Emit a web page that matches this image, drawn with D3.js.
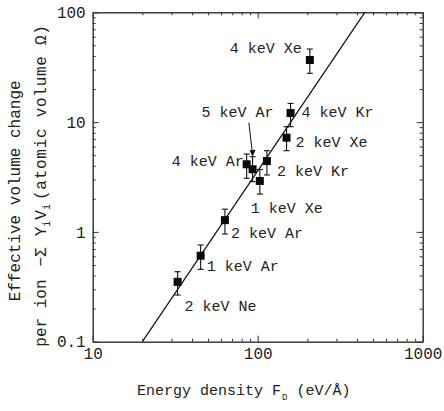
<!DOCTYPE html>
<html>
<head>
<meta charset="utf-8">
<script src="https://cdn.jsdelivr.net/npm/d3@7/dist/d3.min.js"></script>
<style>
  html, body { margin: 0; padding: 0; background: #fff; }
  svg { display: block; }
  .mono { font-family: "Liberation Mono", "Courier New", monospace; fill: #222; }
</style>
</head>
<body>
<svg id="chart" width="444" height="411"></svg>
<script>
// ---------- data ----------
const labels        = ["2 keV Ne","1 keV Ar","2 keV Ar","4 keV Ar","5 keV Ar","2 keV Kr","1 keV Xe","2 keV Xe","4 keV Kr","4 keV Xe"];
const energyDensity = [32.7, 45.1, 63.3, 85.7, 93.1, 113.7, 103, 149.6, 158.2, 207];
const volumeChange  = [0.351, 0.607, 1.28, 4.13, 3.72, 4.42, 2.91, 7.21, 12.1, 36.8];
const errLow        = [0.266, 0.456, 0.957, 3.08, 2.87, 3.30, 2.21, 5.49, 9.08, 27.8];
const errHigh       = [0.434, 0.760, 1.61, 5.12, 4.84, 5.49, 3.70, 9.08, 14.8, 46.3];
// fitted power-law line endpoints
const fitX = [20, 446];
const fitY = [0.1, 100];
// axis ticks
const xMajor = [10, 100, 1000];
const yMajor = [0.1, 1, 10, 100];
const xTickLabels = ["10", "100", "1000"];
const yTickLabels = ["0.1", "1", "10", "100"];

// ---------- layout ----------
const W = 444, H = 411;
const L = 92.7, R = 422.7, T = 12.3, B = 341.7;
// label placement relative to point (px): [dx, dy, anchor]
const labelLayout = [
  [7, 29, "start"], [6, 15, "start"], [6, 18, "start"], [-75, 1.5, "start"],
  [-51, -52, "start"], [10, 15, "start"], [-9, 32, "start"], [9, 9, "start"],
  [11, 4, "start"], [-80, -7, "start"]
];

const svg = d3.select("#chart");
const x = d3.scaleLog().domain([10, 1000]).range([L, R]);
const y = d3.scaleLog().domain([0.1, 100]).range([B, T]);

const xMinor = x.ticks().filter(v => !xMajor.includes(v));
const yMinor = y.ticks().filter(v => !yMajor.includes(v));

const axisColor = "#333";
function styleAxis(g) {
  g.selectAll("path.domain").attr("stroke", axisColor).attr("stroke-width", 1);
  g.selectAll(".tick line").attr("stroke", axisColor).attr("stroke-width", 1);
  g.selectAll(".tick text").attr("class", "mono").attr("font-size", 16).attr("fill", "#222");
}
const fmt = (vals, labs) => d => labs[vals.indexOf(d)];

// bottom
svg.append("g").attr("transform", `translate(0,${B})`)
  .call(d3.axisBottom(x).tickValues(xMajor).tickFormat(fmt(xMajor, xTickLabels)).tickSizeInner(-6).tickSizeOuter(0).tickPadding(6))
  .call(styleAxis);
svg.append("g").attr("transform", `translate(0,${B})`)
  .call(d3.axisBottom(x).tickValues(xMinor).tickFormat("").tickSizeInner(-3).tickSizeOuter(0))
  .call(styleAxis);
// top
svg.append("g").attr("transform", `translate(0,${T})`)
  .call(d3.axisTop(x).tickValues(xMajor).tickFormat("").tickSizeInner(-6).tickSizeOuter(0))
  .call(styleAxis);
svg.append("g").attr("transform", `translate(0,${T})`)
  .call(d3.axisTop(x).tickValues(xMinor).tickFormat("").tickSizeInner(-3).tickSizeOuter(0))
  .call(styleAxis);
// left
svg.append("g").attr("transform", `translate(${L},0)`)
  .call(d3.axisLeft(y).tickValues(yMajor).tickFormat(fmt(yMajor, yTickLabels)).tickSizeInner(-6).tickSizeOuter(0).tickPadding(7))
  .call(styleAxis);
svg.append("g").attr("transform", `translate(${L},0)`)
  .call(d3.axisLeft(y).tickValues(yMinor).tickFormat("").tickSizeInner(-3).tickSizeOuter(0))
  .call(styleAxis);
// right
svg.append("g").attr("transform", `translate(${R},0)`)
  .call(d3.axisRight(y).tickValues(yMajor).tickFormat("").tickSizeInner(-6).tickSizeOuter(0))
  .call(styleAxis);
svg.append("g").attr("transform", `translate(${R},0)`)
  .call(d3.axisRight(y).tickValues(yMinor).tickFormat("").tickSizeInner(-3).tickSizeOuter(0))
  .call(styleAxis);

// clip
svg.append("clipPath").attr("id", "plotclip")
  .append("rect").attr("x", L).attr("y", T).attr("width", R - L).attr("height", B - T);

// fit line
svg.append("path")
  .attr("clip-path", "url(#plotclip)")
  .attr("d", d3.line().x(d => x(d[0])).y(d => y(d[1]))(d3.zip(fitX, fitY)))
  .attr("fill", "none").attr("stroke", "#111").attr("stroke-width", 1.2);

const pts = labels.map((lab, i) => ({
  lab, x: energyDensity[i], y: volumeChange[i], lo: errLow[i], hi: errHigh[i], lay: labelLayout[i]
}));

// error bars
const eb = svg.append("g").attr("stroke", "#111").attr("stroke-width", 1.1);
pts.forEach(p => {
  const cx = x(p.x);
  eb.append("line").attr("x1", cx).attr("x2", cx).attr("y1", y(p.lo)).attr("y2", y(p.hi));
  eb.append("line").attr("x1", cx - 3).attr("x2", cx + 3).attr("y1", y(p.lo)).attr("y2", y(p.lo));
  eb.append("line").attr("x1", cx - 3).attr("x2", cx + 3).attr("y1", y(p.hi)).attr("y2", y(p.hi));
});

// markers
const S = 8;
svg.append("g").selectAll("rect").data(pts).join("rect")
  .attr("x", d => x(d.x) - S / 2).attr("y", d => y(d.y) - S / 2)
  .attr("width", S).attr("height", S).attr("fill", "#0a0a0a");

// labels
svg.append("g").selectAll("text").data(pts).join("text")
  .attr("class", "mono").attr("font-size", 15)
  .attr("x", d => x(d.x) + d.lay[0]).attr("y", d => y(d.y) + d.lay[1])
  .attr("text-anchor", d => d.lay[2])
  .text(d => d.lab);

// arrow for 5 keV Ar
const ar = pts[4];
const ax = x(ar.x), ay = y(ar.y);
svg.append("line")
  .attr("x1", ax - 3.7).attr("y1", ay - 46.6)
  .attr("x2", ax - 0.3).attr("y2", ay - 17)
  .attr("stroke", "#111").attr("stroke-width", 1);
svg.append("path")
  .attr("d", `M${ax - 3},${ay - 19} L${ax + 3},${ay - 19.6} L${ax},${ay - 12.6} Z`)
  .attr("fill", "#111");

// x title
const xt = svg.append("text").attr("class", "mono").attr("font-size", 15)
  .attr("x", 137).attr("y", 395);
xt.append("tspan").text("Energy density F");
xt.append("tspan").attr("font-size", 9).attr("dx", 1).attr("dy", 5).text("D");
xt.append("tspan").attr("dx", 9).attr("dy", -5).text("(eV/Å)");

// y title, line 1
svg.append("text").attr("class", "mono").attr("font-size", 16)
  .attr("transform", "translate(20,190.8) rotate(-90)")
  .attr("text-anchor", "middle")
  .text("Effective volume change");

// y title, line 2
const yt = svg.append("text").attr("class", "mono").attr("font-size", 16)
  .attr("transform", "translate(46,346.7) rotate(-90)")
  .attr("x", 0).attr("y", 0);
yt.append("tspan").text("per ion");
yt.append("tspan").attr("dx", 13).text("−Σ");
yt.append("tspan").attr("dx", 11).text("Y");
yt.append("tspan").attr("font-size", 10).attr("dy", 4).text("i");
yt.append("tspan").attr("dx", 1).attr("dy", -4).text("V");
yt.append("tspan").attr("font-size", 10).attr("dy", 4).text("i");
yt.append("tspan").attr("dx", 4).attr("dy", -4).attr("textLength", 175).attr("lengthAdjust", "spacing").text("(atomic volume Ω)");
</script>
</body>
</html>
